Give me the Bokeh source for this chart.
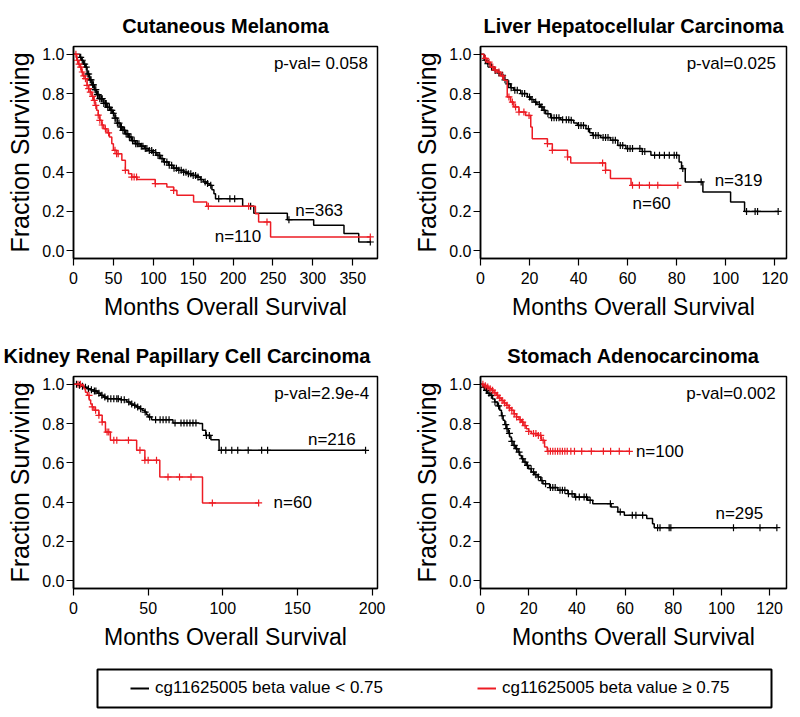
import numpy as np
from bokeh.plotting import figure
from bokeh.models import Range1d, FixedTicker, Label, Legend, LegendItem, NumeralTickFormatter
from bokeh.layouts import column, row
from bokeh.embed import file_html
from bokeh.resources import INLINE

FONT = "Liberation Sans"
BLACK = "#000000"
RED = "#ed1c24"

# ---------------- Data ----------------
# Cutaneous Melanoma
mel_low_t = [0, 8, 10, 12.5, 15, 17, 20, 23, 26, 29, 33, 38, 42, 46, 49, 52, 55, 58.5, 62, 65, 69, 73, 78, 84, 89, 94, 99,
             104.5, 109, 113, 119, 125, 131, 138, 143, 148, 154, 159, 163, 167, 170, 173.5, 176, 178, 212, 226, 268, 301,
             339, 357.5, 372]
mel_low_s = [1.0, 0.985, 0.97, 0.95, 0.935, 0.90, 0.87, 0.845, 0.82, 0.795, 0.774, 0.75, 0.73, 0.715, 0.70, 0.675, 0.65,
             0.63, 0.613, 0.595, 0.579, 0.56, 0.545, 0.532, 0.52, 0.51, 0.50, 0.485, 0.469, 0.452, 0.435, 0.42, 0.409,
             0.40, 0.392, 0.383, 0.375, 0.362, 0.35, 0.342, 0.333, 0.31, 0.29, 0.265, 0.226, 0.19, 0.158, 0.129, 0.087,
             0.044, 0.044]
mel_low_cens = [9, 11, 14, 16, 18, 19, 21, 22, 24, 25, 27, 28, 30, 31, 33, 35, 36, 38, 40, 41, 43, 45, 47, 48, 50, 52, 53,
                55, 57, 59, 60, 62, 64, 66, 68, 70, 72, 74, 76, 78, 80, 82, 85, 87, 90, 92, 95, 98, 100, 103, 106, 108,
                111, 114, 117, 120, 123, 126, 129, 132, 135, 138, 141, 144, 147, 150, 153, 156, 160, 165, 168, 172, 182,
                196, 202, 222, 270, 372]
mel_high_t = [0, 4, 6, 8, 10, 12, 14.6, 17, 19, 21, 23, 25, 27, 29, 31, 33, 35.5, 38, 42, 45, 48, 50, 54, 60.6, 65, 69,
              73, 79.5, 102.5, 117, 125.5, 129.6, 150.5, 167, 228, 232, 247, 372]
mel_high_s = [1.0, 0.97, 0.95, 0.935, 0.91, 0.89, 0.876, 0.842, 0.825, 0.808, 0.786, 0.766, 0.74, 0.715, 0.69, 0.664,
              0.64, 0.621, 0.60, 0.579, 0.545, 0.511, 0.494, 0.46, 0.409, 0.392, 0.375, 0.363, 0.341, 0.324, 0.307,
              0.282, 0.248, 0.226, 0.188, 0.146, 0.07, 0.07]
mel_high_cens = [3, 5, 7, 9, 11, 13, 15, 17, 19, 21, 24, 26, 28, 31, 33, 36, 40, 44, 52, 54, 56, 65, 73, 76, 79, 102.5,
                 125.5, 169, 219.5, 242.5, 372]

# Liver Hepatocellular Carcinoma
liv_low_t = [0, 1.5, 2.7, 4, 5.5, 7, 8.2, 9.5, 10.9, 12.3, 13.6, 16.4, 19.1, 20.5, 21.8, 23, 24.5, 25.5, 26.6, 28.6, 32.7,
             36.8, 38, 39.5, 43, 44.5, 45.7, 49, 53, 56, 59.3, 66, 69.5, 81, 82, 83.5, 90.7, 102, 107.7, 121.4]
liv_low_s = [1.0, 0.97, 0.952, 0.935, 0.918, 0.905, 0.893, 0.87, 0.85, 0.83, 0.817, 0.80, 0.783, 0.77, 0.757, 0.745,
             0.732, 0.715, 0.698, 0.677, 0.667, 0.664, 0.65, 0.638, 0.621, 0.60, 0.587, 0.576, 0.562, 0.536, 0.52, 0.505,
             0.486, 0.452, 0.418, 0.35, 0.299, 0.248, 0.2, 0.2]
liv_low_cens = [2, 3, 4.5, 6, 7.5, 9, 10, 11.5, 12.5, 14, 15, 17, 18, 20, 21, 22.5, 24, 25, 26, 27.5, 29, 30, 31, 32,
                33.5, 35, 36, 37, 40, 41, 42, 44, 46, 47, 48, 50, 51, 52, 54, 55, 57, 58, 60, 61, 62, 65, 66, 67, 71, 73,
                75, 77, 79, 80, 82.5, 90, 108.5, 112, 113, 121.4]
liv_high_t = [0, 1.4, 2.7, 4.1, 5.5, 6.8, 8.2, 9.5, 10.9, 12.3, 13.6, 15.7, 18.4, 20.5, 21.1, 27.3, 29.3, 35.5, 36.8, 51,
              53, 61.4, 80.5]
liv_high_s = [1.0, 0.98, 0.96, 0.935, 0.92, 0.91, 0.89, 0.868, 0.783, 0.757, 0.732, 0.706, 0.689, 0.63, 0.57, 0.545,
              0.511, 0.477, 0.447, 0.409, 0.367, 0.333, 0.333]
liv_high_cens = [2, 3.5, 5, 6, 7.5, 9, 11.6, 13, 14.3, 15.7, 17.7, 19.8, 27.3, 29.3, 35.5, 49.8, 51, 62, 64.8, 68.9, 72.3,
                 80.5]

# Kidney Renal Papillary Cell Carcinoma
kid_low_t = [0, 3, 4.9, 7, 9.3, 11.5, 13.7, 16, 18, 20, 22.5, 31.3, 35.7, 38, 40, 42, 44.5, 46, 47.8, 49, 50, 52.3, 66.6,
             84, 86.4, 88.6, 92, 97.5, 195.6]
kid_low_s = [1.0, 0.995, 0.99, 0.985, 0.978, 0.972, 0.966, 0.955, 0.944, 0.935, 0.927, 0.922, 0.91, 0.90, 0.893, 0.885,
             0.876, 0.868, 0.859, 0.845, 0.834, 0.82, 0.803, 0.80, 0.766, 0.74, 0.718, 0.664, 0.664]
kid_low_cens = [2, 4, 6, 8, 10, 12, 14, 15, 17, 19, 21, 23, 25, 27, 29, 30, 32, 34, 37, 39, 41, 43, 45, 48, 51, 55, 58,
                60, 62, 64, 68, 72, 74, 76, 78, 80, 82, 89, 91, 99, 102, 106, 110, 117, 126, 130, 195.6]
kid_high_t = [0, 4.9, 7, 8, 9.3, 10.5, 11.5, 12.5, 13.7, 17, 19.2, 21.4, 24.7, 42.3, 47.8, 57.8, 86.4, 124]
kid_high_s = [1.0, 0.993, 0.978, 0.96, 0.944, 0.92, 0.90, 0.885, 0.868, 0.842, 0.808, 0.757, 0.715, 0.664, 0.613, 0.528,
              0.396, 0.396]
kid_high_cens = [3, 4.6, 10.4, 12.6, 14.8, 17, 19.2, 22.5, 23.6, 27, 29, 36.8, 44.5, 47.8, 50, 55.6, 63.3, 71, 78.7, 93,
                 124]

# Stomach Adenocarcinoma
sto_low_t = [0, 1, 1.8, 2.8, 3.9, 5, 5.9, 7, 8, 8.7, 9.4, 10.1, 10.8, 11.5, 12.1, 12.8, 13.5, 14.5, 15.6, 16.3, 17, 18,
             19, 20, 21.1, 22.5, 23.9, 25, 25.9, 28.7, 32.1, 36.3, 39, 44.5, 46.6, 54.2, 57, 59.7, 69, 71.4, 72.1, 123]
sto_low_s = [1.0, 0.985, 0.969, 0.955, 0.944, 0.925, 0.91, 0.89, 0.868, 0.84, 0.817, 0.795, 0.774, 0.75, 0.732, 0.71,
             0.689, 0.672, 0.655, 0.638, 0.621, 0.604, 0.587, 0.57, 0.553, 0.54, 0.528, 0.51, 0.494, 0.474, 0.46, 0.443,
             0.426, 0.409, 0.392, 0.375, 0.35, 0.333, 0.316, 0.29, 0.27, 0.27]
sto_low_cens = [1.5, 2.5, 3.5, 4.5, 6, 7.5, 9, 10.5, 11, 12, 13, 14, 15, 16, 17.5, 18.5, 19.5, 21, 22, 23, 24, 25.5, 27,
                29, 30, 31, 33, 34, 35, 36.5, 38, 39.5, 41, 43, 44, 45.5, 53.9, 58, 63, 64.5, 67.3, 73.5, 74.5, 78.3, 79,
                105, 116, 123]
sto_high_t = [0, 1.5, 2.5, 3.5, 4.6, 5.6, 6.6, 7.6, 8.7, 9.7, 10.8, 11.8, 12.8, 13.9, 14.9, 16, 17, 18, 19, 20, 21.1, 23.9,
              25.2, 26.6, 27.7, 61.8]
sto_high_s = [1.0, 0.993, 0.986, 0.978, 0.97, 0.957, 0.944, 0.93, 0.918, 0.905, 0.893, 0.88, 0.868, 0.85, 0.834, 0.82,
              0.808, 0.79, 0.774, 0.76, 0.749, 0.74, 0.715, 0.681, 0.659, 0.659]
sto_high_cens = [1, 2, 3, 4, 5, 6, 7, 8, 9, 10, 11, 12, 13, 14, 15, 16.5, 17.5, 18.5, 20, 22, 23, 24, 25, 26, 28, 29, 30,
                 31, 32, 33, 34, 35, 36, 37.5, 39, 42, 46, 51, 54, 57.6, 61.8]

Y_TICKS = [0.0, 0.2, 0.4, 0.6, 0.8, 1.0]
LEGEND_LABELS = ["cg11625005 beta value < 0.75", "cg11625005 beta value \u2265 0.75"]


def censor_y(t, s, c):
    t = np.asarray(t, dtype=float)
    s = np.asarray(s, dtype=float)
    idx = np.searchsorted(t, np.asarray(c, dtype=float), side="right") - 1
    return s[np.clip(idx, 0, len(s) - 1)]


def panel(title, xmax, xticks, low, high, texts, col, row_i, title_offset=None):
    if col == 0:
        bl, br = 73, 23
    else:
        bl, br = 80, 14
    if row_i == 0:
        h, bt, bb = 330, 46, 72
    else:
        h, bt, bb = 325, 46, 67
    p = figure(width=400, height=h, x_range=Range1d(0, xmax), y_range=Range1d(-0.04, 1.04),
               output_backend="svg", toolbar_location=None,
               min_border_left=bl, min_border_right=br, min_border_top=bt, min_border_bottom=bb)
    p.title.text = title
    if title_offset is None:
        p.title.align = "center"
    else:
        p.title.align = "left"
        p.title.offset = title_offset
    p.title.text_font = FONT
    p.title.text_font_size = "20px"
    p.title.text_font_style = "bold"
    p.title.text_color = "black"
    p.title.standoff = 20
    p.grid.grid_line_color = None
    p.outline_line_color = "black"
    p.outline_line_width = 1.5
    p.outline_line_alpha = 1
    p.xaxis.ticker = FixedTicker(ticks=xticks)
    p.yaxis.ticker = FixedTicker(ticks=Y_TICKS)
    p.yaxis.formatter = NumeralTickFormatter(format="0.0")
    for ax in (p.xaxis, p.yaxis):
        ax.axis_line_width = 1.5
        ax.major_tick_line_width = 1.2
        ax.major_tick_out = 7
        ax.major_tick_in = 0
        ax.minor_tick_line_color = None
        ax.major_label_text_font = FONT
        ax.major_label_text_font_size = "16px"
        ax.major_label_text_color = "black"
        ax.axis_label_text_font = FONT
        ax.axis_label_text_font_style = "normal"
        ax.axis_label_text_color = "black"
    p.xaxis.axis_label_text_font_size = "23px"
    p.yaxis.axis_label_text_font_size = "25px"
    p.xaxis.axis_label = "Months Overall Survival"
    p.yaxis.axis_label = "Fraction Surviving"
    p.xaxis.major_label_standoff = 6
    p.yaxis.major_label_standoff = 2
    p.xaxis.axis_label_standoff = 7
    p.yaxis.axis_label_standoff = 5

    for (t, s, c), color in ((low, BLACK), (high, RED)):
        p.step(x=t, y=s, mode="after", line_color=color, line_width=1.5)
        p.scatter(x=c, y=censor_y(t, s, c), marker="cross", size=7, line_color=color, line_width=1.2)

    for (txt, x, y, align) in texts:
        p.add_layout(Label(x=x, y=y, text=txt, text_align=align, text_baseline="middle",
                           text_font=FONT, text_font_size="17px", text_color="black"))
    return p


p1 = panel("Cutaneous Melanoma", 381, [0, 50, 100, 150, 200, 250, 300, 350],
           (mel_low_t, mel_low_s, mel_low_cens), (mel_high_t, mel_high_s, mel_high_cens),
           [("p-val= 0.058", 369, 0.954, "right"), ("n=363", 278, 0.205, "left"), ("n=110", 177, 0.07, "left")], 0, 0)
p2 = panel("Liver Hepatocellular Carcinoma", 124.8, [0, 20, 40, 60, 80, 100, 120],
           (liv_low_t, liv_low_s, liv_low_cens), (liv_high_t, liv_high_s, liv_high_cens),
           [("p-val=0.025", 120.5, 0.954, "right"), ("n=319", 95.5, 0.357, "left"), ("n=60", 62, 0.24, "left")], 1, 0)
p3 = panel("Kidney Renal Papillary Cell Carcinoma", 203.6, [0, 50, 100, 150, 200],
           (kid_low_t, kid_low_s, kid_low_cens), (kid_high_t, kid_high_s, kid_high_cens),
           [("p-val=2.9e-4", 198, 0.954, "right"), ("n=216", 157, 0.72, "left"), ("n=60", 134, 0.40, "left")], 0, 1,
           title_offset=-70)
p4 = panel("Stomach Adenocarcinoma", 127, [0, 20, 40, 60, 80, 100, 120],
           (sto_low_t, sto_low_s, sto_low_cens), (sto_high_t, sto_high_s, sto_high_cens),
           [("p-val=0.002", 122.5, 0.954, "right"), ("n=100", 64.5, 0.66, "left"), ("n=295", 97.5, 0.34, "left")], 1, 1)

# Legend strip
lg = figure(width=800, height=54, x_range=Range1d(0, 1), y_range=Range1d(0, 1),
            x_axis_type=None, y_axis_type=None, output_backend="svg", toolbar_location=None,
            min_border_left=97, min_border_right=29, min_border_top=14, min_border_bottom=2)
lg.grid.grid_line_color = None
lg.outline_line_color = "black"
lg.outline_line_width = 2
r_low = lg.line(x=[0], y=[0], line_color=BLACK, line_width=2)
r_high = lg.line(x=[0], y=[0], line_color=RED, line_width=2)
legend = Legend(items=[LegendItem(label=LEGEND_LABELS[0], renderers=[r_low]),
                       LegendItem(label=LEGEND_LABELS[1], renderers=[r_high])],
                orientation="horizontal", location=(33, 9), border_line_color=None,
                background_fill_alpha=0, padding=0, margin=0, spacing=0,
                glyph_width=19, glyph_height=20, label_standoff=6, label_width=322, label_height=20,
                label_text_font=FONT, label_text_font_size="17px", label_text_color="black")
lg.add_layout(legend)

layout = column(row(p1, p2), row(p3, p4), lg)
open("out.html", "w").write(file_html(layout, INLINE))
